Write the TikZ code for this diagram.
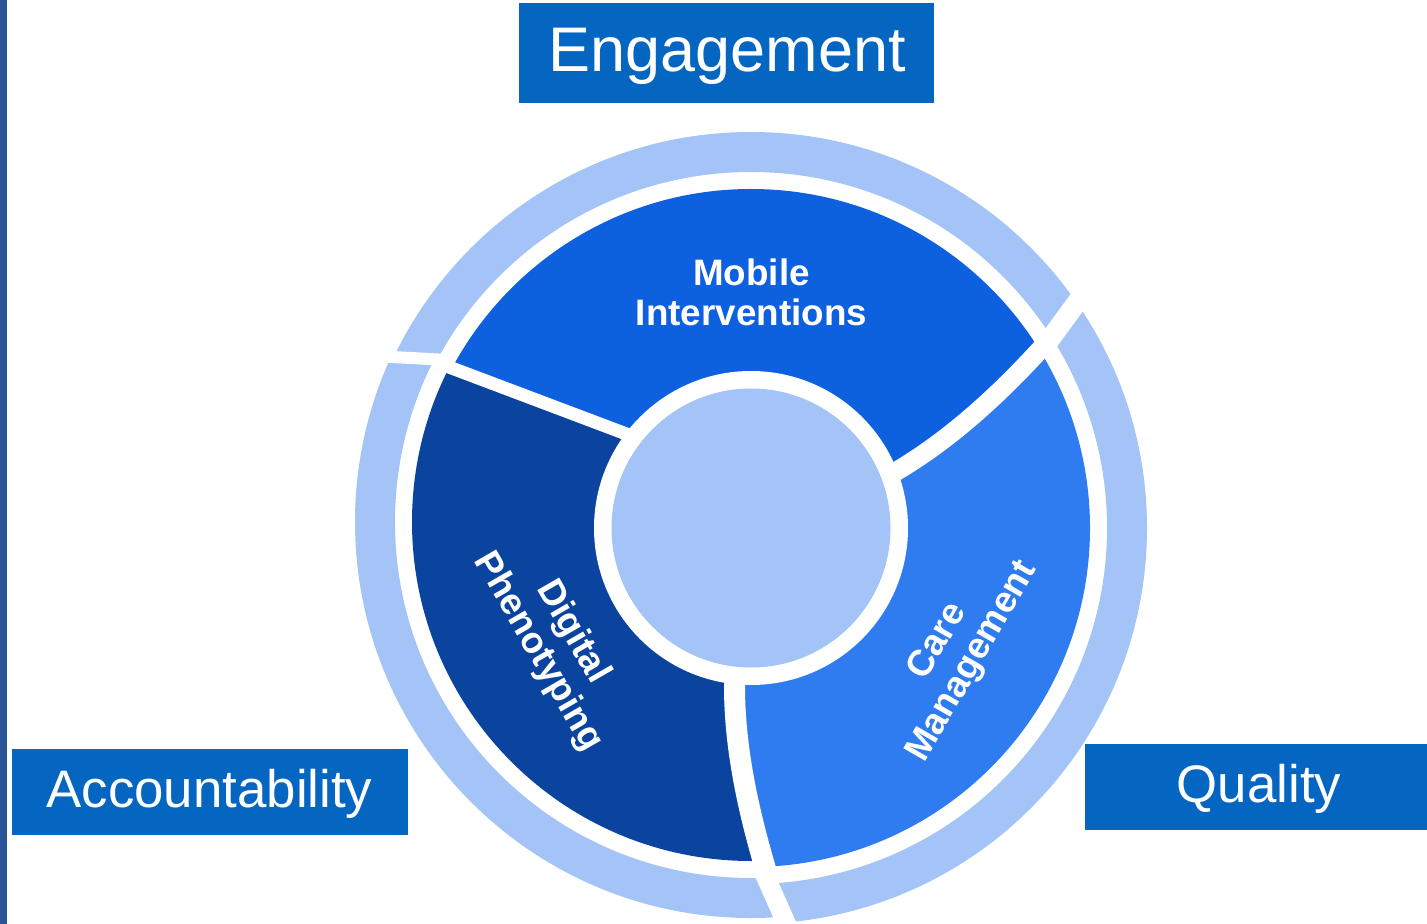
\documentclass[tikz,border=0pt]{standalone}
\usepackage{fontspec}
\setmainfont{Liberation Sans}
\definecolor{ringblue}{HTML}{A4C4F7}
\definecolor{miblue}{HTML}{0D60DE}
\definecolor{dpblue}{HTML}{0A449E}
\definecolor{cmblue}{HTML}{2F7CF0}
\definecolor{boxblue}{HTML}{0566C2}
\definecolor{barblue}{HTML}{2C5597}
\begin{document}
\begin{tikzpicture}[x=0.5pt,y=-0.5pt,
  seclabel/.style={text=white, inner sep=0pt, align=center, font=\bfseries\fontsize{18.4}{20}\selectfont},
  titletext/.style={text=white, inner sep=0pt, anchor=base},
  gapline/.style={white, line cap=butt}]
\useasboundingbox (0,0) rectangle (1427,924);
\fill[barblue] (0,0) rectangle (7,924);
\coordinate (C) at (751,528);
\coordinate (Cd) at (751,522);
% separator end points
\coordinate (A0) at (645,441);
\coordinate (A1) at (380,341);
\coordinate (B0) at (879,481);
\coordinate (B1) at (1080,304);
\coordinate (D0) at (735,665);
\coordinate (D1) at (775,900);
% outer ring, left part
\begin{scope}
\clip (751,525) -- (448,360) -- (377,356) -- (-50,350) -- (-50,1000) -- (820,1000) -- (791,934) -- (763,871) -- cycle;
\fill[ringblue, even odd rule] (Cd) circle[radius=396] (Cd) circle[radius=356];
\end{scope}
% outer ring, other parts
\begin{scope}
\clip (751,525) -- (763,871) -- (791,934) -- (820,1000) -- (1500,1000) -- (1500,-50) -- (-50,-50) -- (-50,350) -- (377,356) -- (448,360) -- cycle;
\fill[ringblue, even odd rule] (C) circle[radius=396] (C) circle[radius=356];
\end{scope}
% ring gaps
\draw[gapline, line width=6pt] (377,356.2) -- (448,360);
\draw[gapline, line width=10pt] (1086,290) -- (1045,346);
\draw[gapline, line width=9.5pt] (763,871) -- (791,934);
% sectors
\begin{scope}
\clip (C) circle[radius=339];
\fill[miblue] (C) -- (A0) -- (A1) -- (300,100) -- (1200,100) -- (B1) .. controls (1022.8,372.2) and (957.6,439.3) .. (B0) -- cycle;
\fill[cmblue] (C) -- (D0) .. controls (731,745) and (751,824) .. (D1) -- (800,1000) -- (1300,1000) -- (1300,200) -- (B1) .. controls (1022.8,372.2) and (957.6,439.3) .. (B0) -- cycle;
\end{scope}
\begin{scope}
\clip (Cd) circle[radius=339];
\fill[dpblue] (C) -- (A0) -- (A1) -- (200,300) -- (200,1000) -- (775,1000) -- (D1) .. controls (751,824) and (731,745) .. (D0) -- cycle;
\end{scope}
% separators
\begin{scope}
\clip (C) circle[radius=347];
\draw[gapline, line width=6.5pt] (A0) -- (A1);
\draw[gapline, line width=9.5pt] (B0) .. controls (957.6,439.3) and (1022.8,372.2) .. (B1);
\draw[gapline, line width=10.5pt] (D0) .. controls (731,745) and (751,824) .. (D1);
\end{scope}
% hub
\fill[white] (C) circle[radius=157];
\fill[ringblue] (C) circle[radius=139.5];
% sector labels
\node[seclabel] (mi) at (751.5,292) {Mobile\\Interventions};
\node[seclabel, rotate=-60] (dp) at (555,642) {Digital\\Phenotyping};
\node[seclabel, rotate=60] (cm) at (955.5,652) {Care\\Management};
% title boxes
\fill[boxblue] (519,3) rectangle (934,103);
\node[titletext, font=\fontsize{31.5}{36}\selectfont] (eng) at (727,72) {Engagement};
\fill[boxblue] (12,749) rectangle (408,835);
\node[titletext, font=\fontsize{26.4}{30}\selectfont] (acc) at (209.5,807) {Accountability};
\fill[boxblue] (1085,744) rectangle (1427,830);
\node[titletext, font=\fontsize{26.4}{30}\selectfont] (qual) at (1259,802) {Quality};
\end{tikzpicture}
\end{document}
